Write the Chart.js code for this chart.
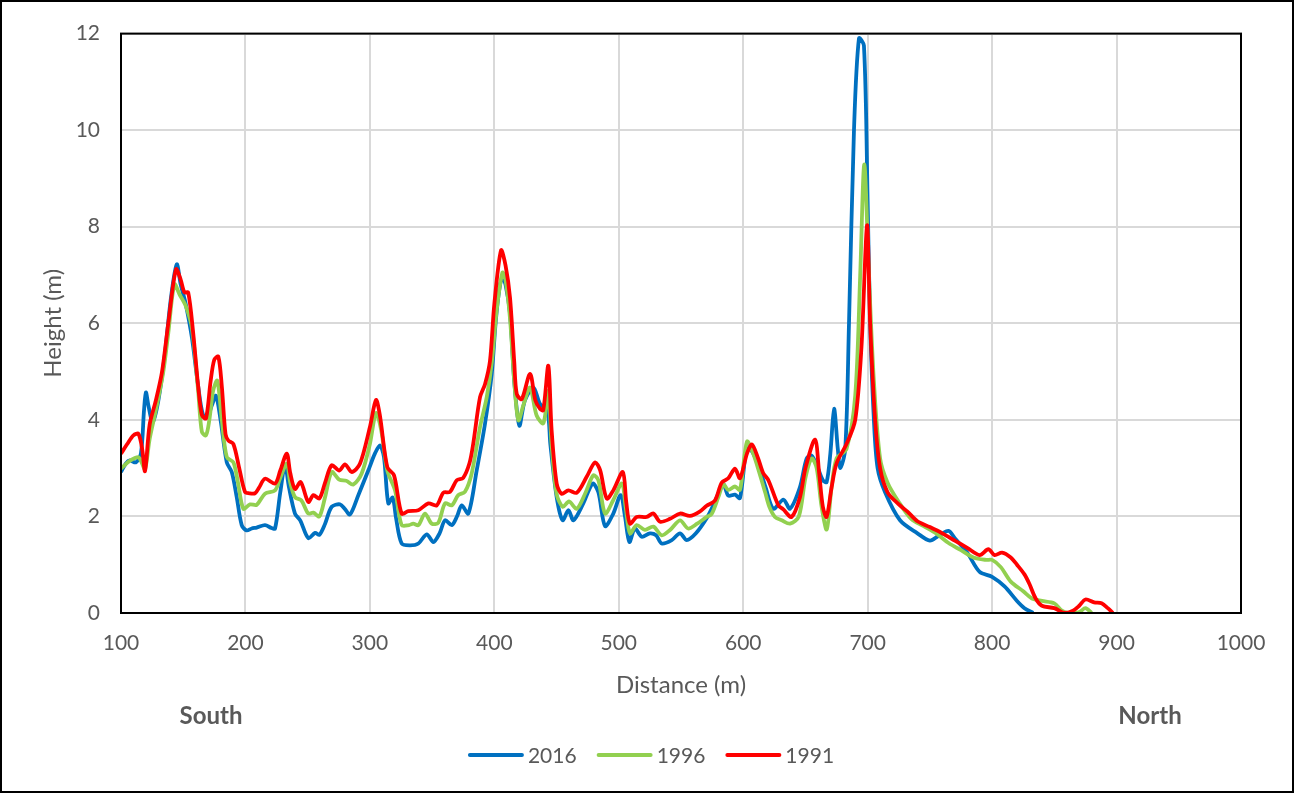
<!DOCTYPE html>
<html>
<head>
<meta charset="utf-8">
<title>Height profile</title>
<script src="https://cdn.jsdelivr.net/npm/chart.js@4.4.1/dist/chart.umd.min.js"></script>
<style>
  body { margin: 0; background: #fff; }
  canvas { display: block; }
</style>
</head>
<body>
<canvas id="profileChart" width="1294" height="793"></canvas>
<script>
// Profile data (distance in m, height in m)
const dist2016 = [100, 104, 107, 112, 116, 118.5, 120, 122, 125.5, 130, 135, 140, 144.8, 148, 152, 157, 162, 166, 170, 173, 176.3, 180, 185, 189, 193, 197, 201, 205, 209, 215.7, 221, 223.8, 228, 231.8, 235, 239.8, 244, 250.5, 256, 259.4, 264, 269.3, 276, 280, 284, 290.7, 298.7, 304, 308.1, 311.3, 314.8, 318.3, 321, 325.5, 332.3, 339, 345.7, 351, 356, 360.4, 365.8, 370, 373.8, 379.1, 385.8, 392.5, 397.9, 401, 404, 406.5, 409, 412.6, 416, 420.1, 424.5, 431.4, 436.7, 442.6, 445, 450.1, 454.9, 459.5, 463.6, 471.5, 479, 483.6, 489, 495.6, 501.5, 505, 508.5, 513, 518.4, 525, 530, 534.5, 542.6, 549.2, 554.6, 562, 570.6, 575.9, 584, 588, 593.4, 597.4, 602.8, 607, 613, 618, 624.2, 632.3, 637.6, 645.6, 651, 655, 660, 664, 667, 670, 673, 676, 678, 682, 685, 689, 693, 697, 700, 702, 705, 708, 714, 726, 740, 750, 757, 765, 770, 780, 790, 800, 810, 820, 826, 833];
const height2016 = [2.92, 3.1, 3.16, 3.12, 3.3, 4.2, 4.57, 4.3, 3.95, 4.4, 5.3, 6.5, 7.22, 6.8, 6.4, 5.7, 4.7, 4.1, 4.1, 4.3, 4.5, 4.0, 3.12, 2.92, 2.4, 1.82, 1.71, 1.75, 1.77, 1.82, 1.76, 1.75, 2.5, 3.06, 2.6, 2.06, 1.92, 1.55, 1.66, 1.62, 1.85, 2.2, 2.25, 2.15, 2.04, 2.44, 2.95, 3.3, 3.47, 3.23, 2.27, 2.39, 1.97, 1.44, 1.4, 1.44, 1.63, 1.47, 1.65, 1.92, 1.82, 2.0, 2.23, 2.06, 2.95, 3.92, 4.95, 6.0, 6.7, 6.95, 6.8, 6.2, 4.8, 3.88, 4.4, 4.67, 4.33, 4.19, 3.5, 2.4, 1.92, 2.13, 1.92, 2.27, 2.68, 2.5, 1.8, 2.06, 2.44, 2.0, 1.47, 1.75, 1.58, 1.65, 1.61, 1.44, 1.51, 1.65, 1.51, 1.65, 1.96, 2.23, 2.66, 2.43, 2.45, 2.38, 3.4, 3.35, 3.0, 2.6, 2.16, 2.35, 2.16, 2.61, 3.2, 3.26, 3.0, 2.75, 2.71, 3.3, 4.23, 3.4, 3.0, 3.4, 6.0, 10.0, 11.9, 11.75, 8.5, 6.0, 4.0, 3.0, 2.5, 1.92, 1.65, 1.5, 1.6, 1.7, 1.55, 1.25, 0.85, 0.75, 0.55, 0.25, 0.1, 0];

const dist1996 = [100, 107, 113.8, 116, 119.3, 123, 128, 134, 138, 142.9, 147, 152, 157, 162, 165, 168.3, 171, 174, 177.4, 181, 185, 190.3, 194, 198.3, 203.7, 209, 215.7, 223.8, 228, 233.2, 236, 239.8, 245, 250.5, 254.6, 259.4, 264, 269.3, 275.4, 281, 286.7, 293.4, 300, 304.9, 309, 314, 320.2, 325.5, 331.5, 334.8, 339, 344.3, 349.7, 355, 360.4, 365.8, 371, 376.4, 381.8, 388.5, 393.9, 398, 402, 406.5, 409, 412.6, 416, 419.3, 423.3, 428.7, 434, 439.4, 443.4, 446, 450, 455, 460, 466.2, 472.9, 479.5, 483.6, 489, 495.6, 502.5, 505.5, 509, 514.4, 521, 527.8, 534.5, 541.2, 549.2, 555.7, 563, 570.6, 574.6, 580, 584, 588, 593.4, 597.4, 603, 608, 613, 617.6, 621, 625.5, 631, 637.6, 644.7, 650, 655, 659, 663, 667.1, 671, 675, 683, 690, 694, 697.3, 701, 705, 710, 716, 725, 735, 745, 755, 765, 775, 785, 795, 800, 807, 815, 825, 832, 840, 850, 856, 862, 870, 875, 880];
const height1996 = [2.99, 3.15, 3.23, 3.15, 2.98, 3.6, 4.2, 5.0, 5.8, 6.81, 6.6, 6.36, 5.9, 4.6, 3.75, 3.68, 4.0, 4.6, 4.81, 4.0, 3.23, 3.12, 2.7, 2.16, 2.25, 2.24, 2.47, 2.54, 2.8, 3.09, 2.7, 2.4, 2.33, 2.06, 2.08, 2.0, 2.4, 2.92, 2.76, 2.74, 2.66, 2.89, 3.5, 4.14, 3.8, 2.95, 2.54, 1.82, 1.82, 1.85, 1.82, 2.06, 1.85, 1.87, 2.27, 2.23, 2.44, 2.51, 2.89, 3.85, 4.47, 5.2, 6.3, 7.05, 6.9, 6.1, 4.8, 3.99, 4.3, 4.67, 4.09, 3.93, 4.6, 3.5, 2.47, 2.2, 2.31, 2.16, 2.47, 2.85, 2.75, 2.06, 2.34, 2.68, 2.2, 1.65, 1.82, 1.72, 1.79, 1.61, 1.72, 1.92, 1.75, 1.85, 1.99, 2.05, 2.4, 2.66, 2.55, 2.62, 2.55, 3.55, 3.3, 2.9, 2.5, 2.2, 1.99, 1.92, 1.85, 2.0, 2.8, 3.2, 3.0, 2.2, 1.73, 2.6, 3.2, 3.4, 4.5, 7.0, 9.29, 7.0, 4.8, 3.2, 2.7, 2.3, 1.95, 1.8, 1.65, 1.45, 1.3, 1.15, 1.1, 1.1, 0.95, 0.65, 0.45, 0.3, 0.25, 0.2, 0.05, 0, 0.02, 0.1, 0];

const dist1991 = [100, 105, 110, 114, 117, 119.3, 123, 128, 133, 138, 144.2, 148, 151, 154, 158, 162, 165, 168.3, 172, 175, 178.2, 181, 184, 186.3, 190.3, 195, 199.6, 203, 207.7, 211, 215.7, 223.8, 228, 233.2, 236, 239.8, 244.4, 250.5, 254.6, 259.4, 264, 269.3, 275.4, 280, 285.4, 292, 300, 304.9, 308, 314, 319.4, 325.5, 330.9, 338.9, 347, 353.7, 359, 364.4, 369.8, 375, 380, 383, 388.5, 392.5, 396.5, 400, 405.4, 409, 412.6, 416, 418, 422, 428.7, 433, 436.7, 439.3, 443.4, 446, 450.1, 454.1, 459.5, 466.2, 474.2, 480.9, 485, 490.3, 495.6, 503.2, 506, 509, 514.4, 522.5, 527.8, 533.2, 541.2, 549.2, 557.2, 565, 570.6, 577.3, 582.7, 588, 593.4, 597.4, 603, 607, 612, 616, 620.2, 628.2, 632, 638.9, 645.6, 650, 657.7, 661, 664, 667, 671, 675, 683, 690, 695, 699.5, 702, 706, 710, 716, 725, 732, 740, 750, 760, 770, 780, 790, 797, 802, 808, 815, 820, 826, 830, 835, 840, 850, 858, 865, 870, 875, 882, 888, 893, 897];
const height1991 = [3.3, 3.5, 3.68, 3.71, 3.4, 2.94, 3.9, 4.4, 5.0, 6.0, 7.12, 6.9, 6.64, 6.64, 5.8, 4.7, 4.1, 4.03, 4.8, 5.25, 5.31, 4.7, 3.7, 3.57, 3.5, 3.0, 2.51, 2.48, 2.48, 2.6, 2.78, 2.68, 2.95, 3.3, 2.9, 2.57, 2.71, 2.3, 2.44, 2.37, 2.7, 3.06, 2.95, 3.08, 2.92, 3.09, 3.85, 4.41, 4.1, 3.02, 2.85, 2.06, 2.11, 2.13, 2.27, 2.23, 2.49, 2.51, 2.75, 2.8, 3.1, 3.5, 4.47, 4.74, 5.22, 6.4, 7.51, 7.2, 6.53, 5.2, 4.54, 4.43, 4.95, 4.4, 4.23, 4.2, 5.12, 3.8, 2.68, 2.47, 2.54, 2.49, 2.82, 3.12, 2.96, 2.37, 2.54, 2.92, 2.3, 1.85, 1.99, 1.99, 2.06, 1.89, 1.95, 2.06, 2.01, 2.1, 2.22, 2.33, 2.7, 2.79, 2.99, 2.79, 3.3, 3.49, 3.2, 2.9, 2.75, 2.23, 2.15, 1.99, 2.4, 3.0, 3.59, 2.9, 2.2, 1.99, 2.6, 3.1, 3.5, 4.0, 5.5, 8.03, 6.0, 4.0, 3.0, 2.5, 2.25, 2.1, 1.9, 1.78, 1.65, 1.5, 1.35, 1.2, 1.32, 1.2, 1.25, 1.15, 1.0, 0.8, 0.6, 0.3, 0.15, 0.1, 0, 0.05, 0.15, 0.28, 0.22, 0.2, 0.1, 0];

const seriesNames = ['2016', '1996', '1991'];
const seriesColors = ['#0070C0', '#92D050', '#FF0000'];
const xTicks = [100, 200, 300, 400, 500, 600, 700, 800, 900, 1000];
const yTicks = [0, 2, 4, 6, 8, 10, 12];
const endLabels = ['South', 'North'];

const FONT = 'Lato, "Open Sans", sans-serif';
const TEXT_COLOR = '#595959';

// Turn two arrays into {x, y} points
function toPoints(xs, ys) {
    return xs.map((x, i) => ({ x: x, y: ys[i] }));
}

// Frame, plot border, South/North and the legend
const decorations = {
    id: 'decorations',
    afterDraw(chart) {
        const ctx = chart.ctx;
        const area = chart.chartArea;
        ctx.save();

        // plot area border
        ctx.strokeStyle = '#000';
        ctx.lineWidth = 2;
        ctx.strokeRect(area.left, area.top, area.right - area.left, area.bottom - area.top);

        // outer frame
        ctx.strokeStyle = '#000';
        ctx.lineWidth = 2;
        ctx.strokeRect(1, 1, chart.width - 2, chart.height - 2);

        // South / North
        ctx.fillStyle = TEXT_COLOR;
        ctx.font = 'bold 24px ' + FONT;
        ctx.textBaseline = 'middle';
        ctx.textAlign = 'center';
        ctx.fillText(endLabels[0], 211, 716);
        ctx.fillText(endLabels[1], 1150, 716);

        // legend
        ctx.font = '21px ' + FONT;
        ctx.textAlign = 'left';
        const lineLen = 52, gap = 6, itemGap = 22, legendY = 755;
        const widths = seriesNames.map(n => lineLen + gap + ctx.measureText(n).width);
        const total = widths.reduce((a, b) => a + b, 0) + itemGap * (widths.length - 1);
        let x = 652 - total / 2;
        seriesNames.forEach((name, i) => {
            ctx.strokeStyle = seriesColors[i];
            ctx.lineWidth = 4;
            ctx.lineCap = 'round';
            ctx.beginPath();
            ctx.moveTo(x, legendY);
            ctx.lineTo(x + lineLen, legendY);
            ctx.stroke();
            ctx.fillStyle = TEXT_COLOR;
            ctx.fillText(name, x + lineLen + gap, legendY + 1);
            x += widths[i] + itemGap;
        });
        ctx.restore();
    }
};

const ctx = document.getElementById('profileChart').getContext('2d');
new Chart(ctx, {
    type: 'line',
    data: {
        datasets: [
            { label: seriesNames[0], data: toPoints(dist2016, height2016), borderColor: seriesColors[0], order: 3 },
            { label: seriesNames[1], data: toPoints(dist1996, height1996), borderColor: seriesColors[1], order: 2 },
            { label: seriesNames[2], data: toPoints(dist1991, height1991), borderColor: seriesColors[2], order: 1 }
        ]
    },
    options: {
        responsive: false,
        animation: false,
        elements: {
            line: { borderWidth: 3.8, tension: 0.3, fill: false },
            point: { radius: 0, hoverRadius: 0 }
        },
        layout: {
            padding: { left: 0, top: 32, right: 53, bottom: 0 }
        },
        plugins: {
            legend: { display: false },
            tooltip: { enabled: false }
        },
        scales: {
            x: {
                type: 'linear',
                min: xTicks[0],
                max: xTicks[xTicks.length - 1],
                afterBuildTicks: (scale) => { scale.ticks = xTicks.map(v => ({ value: v })); },
                afterFit: (scale) => { scale.height = 180; },
                grid: { color: '#d9d9d9', lineWidth: 2, drawTicks: false },
                border: { color: '#000', width: 2 },
                ticks: {
                    color: TEXT_COLOR,
                    padding: 18,
                    font: { family: FONT, size: 21 },
                    callback: (value) => String(value)
                },
                title: {
                    display: true,
                    text: 'Distance (m)',
                    color: TEXT_COLOR,
                    font: { family: FONT, size: 24 },
                    padding: { top: 0, bottom: 93 }
                }
            },
            y: {
                min: yTicks[0],
                max: yTicks[yTicks.length - 1],
                afterBuildTicks: (scale) => { scale.ticks = yTicks.map(v => ({ value: v })); },
                afterFit: (scale) => { scale.width = 121; },
                grid: { color: '#d9d9d9', lineWidth: 2, drawTicks: false },
                border: { color: '#000', width: 2 },
                ticks: {
                    color: TEXT_COLOR,
                    padding: 21,
                    font: { family: FONT, size: 21 },
                    callback: (value) => String(value)
                },
                title: {
                    display: true,
                    text: 'Height (m)',
                    color: TEXT_COLOR,
                    font: { family: FONT, size: 24 },
                    padding: { top: 39, bottom: 0 }
                }
            }
        }
    },
    plugins: [decorations]
});
</script>
</body>
</html>
